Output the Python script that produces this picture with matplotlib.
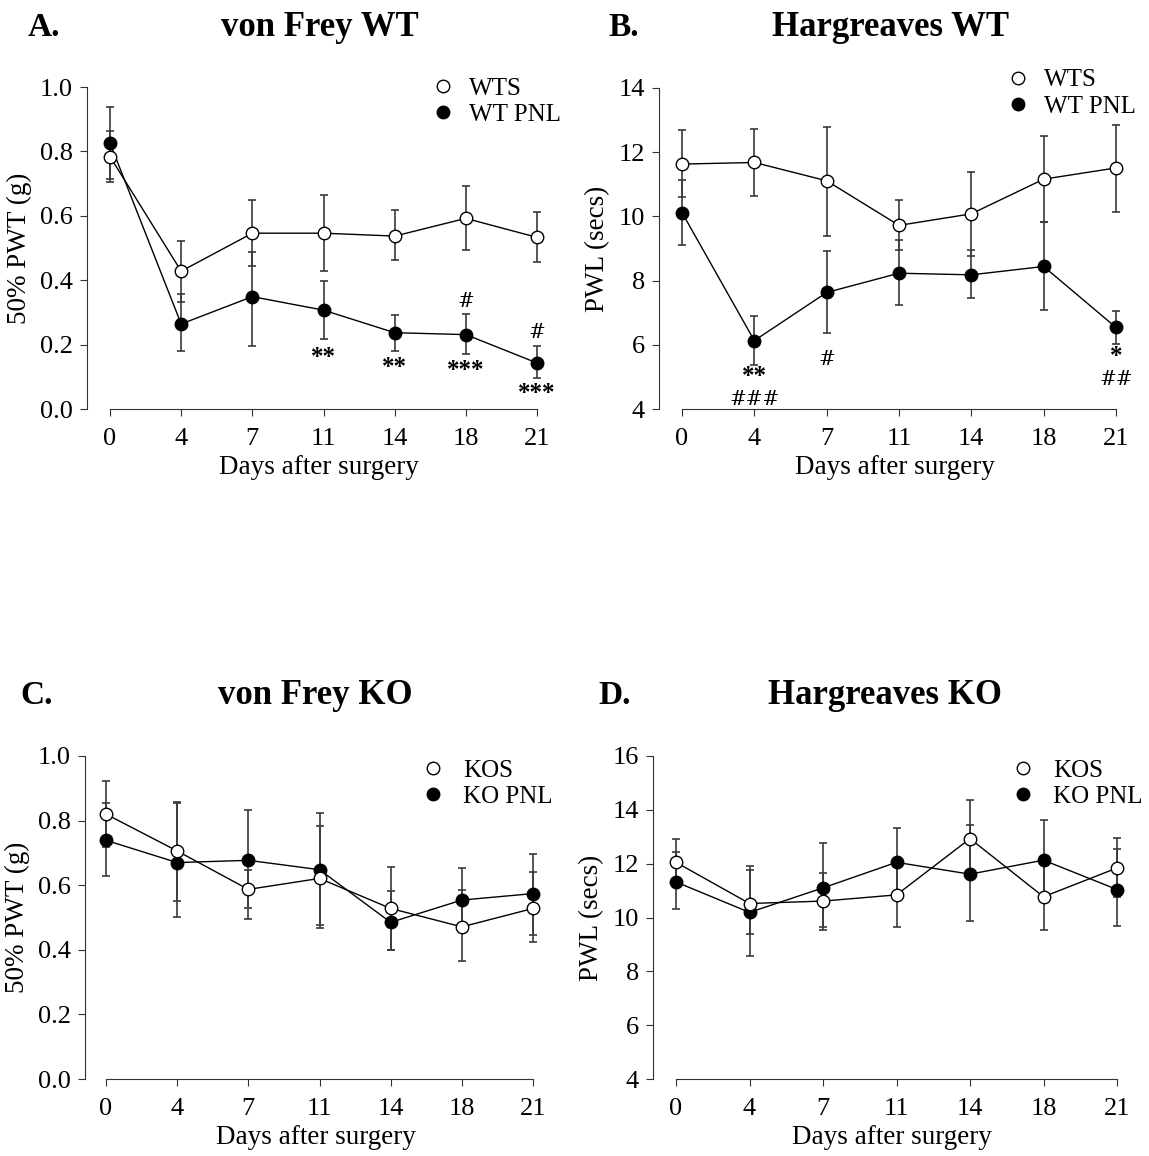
import matplotlib
matplotlib.use("Agg")
import matplotlib.pyplot as plt
from matplotlib.lines import Line2D

plt.rcParams['font.family'] = ['Liberation Serif', 'DejaVu Serif']

# x categories (evenly spaced days)
days = ['0', '4', '7', '11', '14', '18', '21']

# A. von Frey WT
vf_wts = [0.784, 0.428, 0.546, 0.546, 0.537, 0.592, 0.533]
vf_wts_hi = [0.153, 0.094, 0.104, 0.118, 0.080, 0.101, 0.080]
vf_wts_lo = [0.078, 0.095, 0.101, 0.116, 0.075, 0.099, 0.077]
vf_wtp = [0.826, 0.264, 0.349, 0.307, 0.237, 0.231, 0.143]
vf_wtp_hi = [0.038, 0.092, 0.140, 0.091, 0.056, 0.065, 0.052]
vf_wtp_lo = [0.111, 0.085, 0.152, 0.090, 0.058, 0.061, 0.048]

# B. Hargreaves WT
hg_wts = [11.63, 11.68, 11.11, 9.72, 10.08, 11.16, 11.51]
hg_wts_hi = [1.06, 1.04, 1.69, 0.80, 1.30, 1.33, 1.33]
hg_wts_lo = [1.04, 1.04, 1.71, 0.78, 1.30, 1.34, 1.36]
hg_wtp = [10.12, 6.13, 7.63, 8.23, 8.18, 8.44, 6.54]
hg_wtp_hi = [1.02, 0.78, 1.28, 1.04, 0.76, 1.38, 0.50]
hg_wtp_lo = [1.01, 0.76, 1.25, 0.99, 0.73, 1.37, 0.52]

# C. von Frey KO
vf_kos = [0.820, 0.706, 0.587, 0.621, 0.528, 0.471, 0.528]
vf_kos_hi = [0.103, 0.152, 0.060, 0.163, 0.129, 0.114, 0.113]
vf_kos_lo = [0.101, 0.154, 0.059, 0.155, 0.129, 0.106, 0.105]
vf_kop = [0.739, 0.670, 0.677, 0.648, 0.485, 0.554, 0.574]
vf_kop_hi = [0.116, 0.183, 0.155, 0.174, 0.097, 0.098, 0.124]
vf_kop_lo = [0.110, 0.168, 0.183, 0.172, 0.086, 0.098, 0.127]

# D. Hargreaves KO
hg_kos = [12.05, 10.52, 10.61, 10.84, 12.93, 10.77, 11.84]
hg_kos_hi = [0.85, 1.26, 1.05, 1.15, 1.43, 1.22, 1.13]
hg_kos_lo = [0.85, 1.15, 1.08, 1.19, 1.40, 1.22, 1.07]
hg_kop = [11.32, 10.19, 11.10, 12.05, 11.61, 12.13, 11.04]
hg_kop_hi = [1.12, 1.72, 1.65, 1.28, 1.82, 1.48, 1.50]
hg_kop_lo = [1.02, 1.61, 1.45, 1.28, 1.75, 1.48, 1.36]

# significance marks: (day index, y, text)
marks_a = [(3, 0.16, '**'), (4, 0.13, '**'), (5, 0.12, '***'), (5, 0.335, '#'),
           (6, 0.238, '#'), (6, 0.048, '***')]
marks_b = [(1, 5.02, '**'), (1, 4.3, '###'), (2, 5.55, '#'), (6, 5.62, '*'), (6, 4.93, '##')]

W, H = 1149, 1156
fig = plt.figure(figsize=(W / 100, H / 100), dpi=100)


def make_ax(left, top, bottom, day0, day21, ylim, yticks, ylabel):
    unit = (day21 - day0) / 6.0
    x0 = -(day0 - left) / unit
    x1 = 6.2
    right = day0 + x1 * unit
    ax = fig.add_axes([left / W, 1 - bottom / H, (right - left) / W, (bottom - top) / H])
    ax.set_xlim(x0, x1)
    ax.set_ylim(*ylim)
    ax.set_yticks(yticks)
    ax.set_xticks(range(len(days)))
    ax.set_xticklabels(days)
    for s in ['top', 'right']:
        ax.spines[s].set_visible(False)
    ax.spines['bottom'].set_bounds(0, 6)
    ax.spines['left'].set_color('#333333')
    ax.spines['bottom'].set_color('#333333')
    ax.tick_params(axis='both', labelsize=19, length=5, color='#333333')
    ax.tick_params(axis='x', pad=9)
    ax.tick_params(axis='y', pad=5)
    ax.set_xlabel('Days after surgery', fontsize=19.5, labelpad=3)
    ax.set_ylabel(ylabel, fontsize=19.5, labelpad=6)
    return ax


def draw(ax, sham, sham_lo, sham_hi, pnl, pnl_lo, pnl_hi, labels, anchor, textpad):
    x = range(len(days))
    ax.errorbar(x, sham, yerr=[sham_lo, sham_hi], fmt='none', ecolor='#3a3a3a',
                elinewidth=1.2, capsize=3.2, capthick=1.2, zorder=1)
    ax.errorbar(x, pnl, yerr=[pnl_lo, pnl_hi], fmt='none', ecolor='#3a3a3a',
                elinewidth=1.2, capsize=3.2, capthick=1.2, zorder=1)
    ax.plot(x, pnl, '-o', color='black', lw=1, ms=9, mfc='black', mec='black', zorder=3)
    ax.plot(x, sham, '-o', color='black', lw=1, ms=9, mfc='white', mec='black',
            mew=1, zorder=4)
    handles = [Line2D([], [], ls='none', marker='o', ms=9, mfc='white', mec='black'),
               Line2D([], [], ls='none', marker='o', ms=9, mfc='black', mec='black')]
    ax.legend(handles, labels, loc='upper right', bbox_to_anchor=anchor, frameon=False,
              fontsize=18, handletextpad=textpad, labelspacing=0.15, handlelength=1.2)


def put_marks(ax, marks):
    for i, y, t in marks:
        if '#' in t:
            ax.text(i, y, t, ha='center', va='center', fontsize=14.5, family='DejaVu Serif')
        else:
            ax.text(i, y, t, ha='center', va='center', fontsize=18, fontweight='bold')


ax_a = make_ax(87, 87, 409, 110, 537, (0, 1.0), [0, 0.2, 0.4, 0.6, 0.8, 1.0], '50% PWT (g)')
ax_a.set_yticklabels(['0.0', '0.2', '0.4', '0.6', '0.8', '1.0'])
draw(ax_a, vf_wts, vf_wts_lo, vf_wts_hi, vf_wtp, vf_wtp_lo, vf_wtp_hi, ['WTS', 'WT PNL'],
     (1.07, 1.1), 0.45)
put_marks(ax_a, marks_a)

ax_b = make_ax(659, 88, 409, 682, 1116, (4, 14), [4, 6, 8, 10, 12, 14], 'PWL (secs)')
draw(ax_b, hg_wts, hg_wts_lo, hg_wts_hi, hg_wtp, hg_wtp_lo, hg_wtp_hi, ['WTS', 'WT PNL'],
     (1.06, 1.13), 0.45)
put_marks(ax_b, marks_b)

ax_c = make_ax(85, 756, 1079, 106, 533, (0, 1.0), [0, 0.2, 0.4, 0.6, 0.8, 1.0], '50% PWT (g)')
ax_c.set_yticklabels(['0.0', '0.2', '0.4', '0.6', '0.8', '1.0'])
draw(ax_c, vf_kos, vf_kos_lo, vf_kos_hi, vf_kop, vf_kop_lo, vf_kop_hi, ['KOS', 'KO PNL'],
     (1.06, 1.06), 0.6)

ax_d = make_ax(653, 756, 1079, 676, 1117, (4, 16), [4, 6, 8, 10, 12, 14, 16], 'PWL (secs)')
draw(ax_d, hg_kos, hg_kos_lo, hg_kos_hi, hg_kop, hg_kop_lo, hg_kop_hi, ['KOS', 'KO PNL'],
     (1.07, 1.06), 0.6)

# panel letters and titles
for x, y, t in [(28, 27, 'A.'), (608, 27, 'B.'), (20, 695, 'C.'), (598, 695, 'D.')]:
    fig.text(x / W, 1 - y / H, t, ha='left', va='center', fontsize=24, fontweight='bold')
for x, y, t in [(320, 27, 'von Frey WT'), (890, 27, 'Hargreaves WT'),
                (315, 695, 'von Frey KO'), (885, 695, 'Hargreaves KO')]:
    fig.text(x / W, 1 - y / H, t, ha='center', va='center', fontsize=25, fontweight='bold')

fig.savefig('out.png', dpi=100)
